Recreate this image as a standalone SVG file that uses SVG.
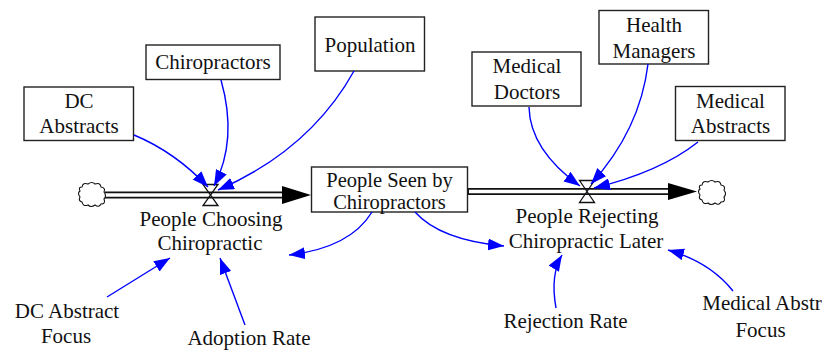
<svg xmlns="http://www.w3.org/2000/svg" width="822" height="351" viewBox="0 0 822 351" font-family="'Liberation Serif', 'Times New Roman', 'DejaVu Serif', serif">
<style>
text{font-family:'Liberation Serif','Times New Roman','DejaVu Serif',serif;font-size:21px;fill:#111;text-anchor:middle}
.tight{font-size:20.5px}
.box{fill:#fff;stroke:#222;stroke-width:1.4}
.link{fill:none;stroke:#0000ff;stroke-width:1.4;marker-end:url(#ah)}
.pipeo{stroke:#111;stroke-width:7;fill:none}
.pipei{stroke:#fff;stroke-width:3.4;fill:none}
.valve{fill:none;stroke:#111;stroke-width:1.3}
.cloud{fill:#fff;stroke:#111;stroke-width:1.1}
.head{fill:#000}
</style>
<defs>
<marker id="ah" markerUnits="userSpaceOnUse" markerWidth="17" markerHeight="12" refX="16" refY="6" orient="auto">
<path d="M0,0 L16,6 L0,12 z" fill="#0000ff"/>
</marker>
</defs>
<rect width="822" height="351" fill="#fff"/>

<g id="flows">
<path class="pipeo" d="M105,195 H283"/>
<path class="pipei" d="M104,195 H284"/>
<polygon class="head" points="282,186 311,195 282,204"/>
<path class="pipeo" d="M468,191.5 H669"/>
<path class="pipei" d="M469,191.5 H670"/>
<polygon class="head" points="668,183 697,191.5 668,200"/>
</g>

<g id="cloud-source">
<path class="cloud" d="M82,187 Q83,182 88,184 Q92,181 95,184 Q100,182 101,187 Q106,188 104,192 Q107,196 104,199 Q106,204 101,204 Q99,208 95,205 Q91,208 88,205 Q83,207 82,202 Q78,201 80,197 Q77,193 80,191 Q78,187 82,187 Z"/>
</g>
<g id="cloud-sink">
<path class="cloud" transform="translate(620,-2)" d="M82,187 Q83,182 88,184 Q92,181 95,184 Q100,182 101,187 Q106,188 104,192 Q107,196 104,199 Q106,204 101,204 Q99,208 95,205 Q91,208 88,205 Q83,207 82,202 Q78,201 80,197 Q77,193 80,191 Q78,187 82,187 Z"/>
</g>

<g id="people-choosing">
<path class="valve" d="M203,184.5 H218 L203,205.5 H218 Z"/>
<text x="211" y="226">People Choosing</text>
<text x="210" y="250">Chiropractic</text>
</g>

<g id="people-rejecting">
<path class="valve" d="M579.5,180.5 H594.5 L579.5,202.5 H594.5 Z"/>
<text x="587" y="223">People Rejecting</text>
<text x="586" y="248">Chiropractic Later</text>
</g>

<g id="people-seen">
<rect class="box" x="311.5" y="167" width="156" height="45"/>
<text class="tight" x="389.5" y="187">People Seen by</text>
<text class="tight" x="389.5" y="208.5">Chiropractors</text>
</g>

<g id="dc-abstracts">
<rect class="box" x="24" y="87" width="109.5" height="53.5"/>
<text x="79" y="108">DC</text>
<text x="79" y="133">Abstracts</text>
</g>

<g id="chiropractors">
<rect class="box" x="146" y="45" width="134" height="34.5"/>
<text x="213" y="69">Chiropractors</text>
</g>

<g id="population">
<rect class="box" x="315" y="17" width="109.5" height="54"/>
<text x="370" y="52">Population</text>
</g>

<g id="medical-doctors">
<rect class="box" x="472" y="52" width="109" height="54"/>
<text x="527" y="73">Medical</text>
<text x="527" y="99">Doctors</text>
</g>

<g id="health-managers">
<rect class="box" x="599" y="10.5" width="109.5" height="53.5"/>
<text x="654" y="32">Health</text>
<text x="654" y="58">Managers</text>
</g>

<g id="medical-abstracts">
<rect class="box" x="675.5" y="86.5" width="109.5" height="54"/>
<text x="730.5" y="108">Medical</text>
<text x="730.5" y="133">Abstracts</text>
</g>

<g id="dc-abstract-focus">
<text x="67" y="318">DC Abstract</text>
<text x="66" y="343">Focus</text>
</g>

<g id="adoption-rate">
<text x="249" y="345">Adoption Rate</text>
</g>

<g id="rejection-rate">
<text x="565.5" y="328">Rejection Rate</text>
</g>

<g id="medical-abstr-focus">
<text x="762" y="310">Medical Abstr</text>
<text x="760.5" y="337">Focus</text>
</g>

<g id="connectors">
<path class="link" d="M134,135 Q175,152 208,187"/>
<path class="link" d="M221,80 Q238,140 214,186"/>
<path class="link" d="M354,71 Q310,150 218,190"/>
<path class="link" d="M529,107 Q530,150 580,186"/>
<path class="link" d="M648,64 Q640,130 591,184"/>
<path class="link" d="M698,142 Q660,172 594,188"/>
<path class="link" d="M372,212 Q350,248 289,255"/>
<path class="link" d="M415,212 Q440,240 504,246"/>
<path class="link" d="M107,297 L170,258"/>
<path class="link" d="M245,325 L220,258"/>
<path class="link" d="M556,308 Q550,275 562,255"/>
<path class="link" d="M733,291 Q710,262 668,250"/>
</g>
</svg>
